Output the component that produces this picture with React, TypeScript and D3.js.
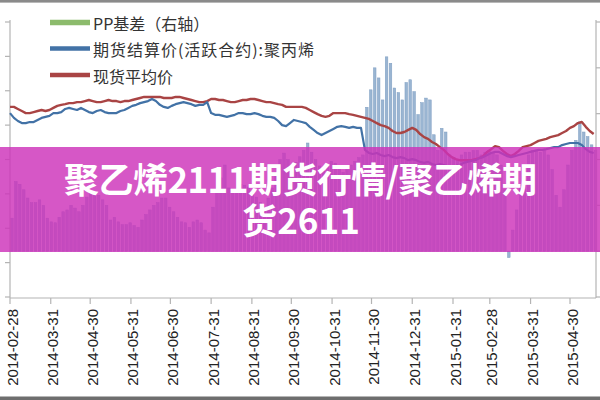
import React from "react";
import * as d3 from "d3";

// ---- data ----
const startDate = new Date(2014, 1, 28);
const stepDays = 3;

// 期货结算价(活跃合约):聚丙烯 (left axis)
const futuresPrice = [
  11350, 11210, 11120, 11060, 11060, 11090, 11090, 11150, 11210, 11240,
  11270, 11350, 11350, 11380, 11470, 11500, 11470, 11440, 11500, 11440,
  11380, 11350, 11410, 11440, 11380, 11350, 11350, 11350, 11410, 11440,
  11500, 11560, 11590, 11640, 11670, 11700, 11760, 11700, 11590, 11530,
  11500, 11560, 11610, 11640, 11670, 11640, 11610, 11560, 11590, 11590,
  11670, 11350, 11300, 11300, 11270, 11240, 11270, 11300, 11350, 11350,
  11320, 11320, 11350, 11320, 11270, 11240, 11240, 11210, 11120, 11000,
  10970, 11060, 11150, 11120, 11090, 11060, 10950, 10860, 10770, 10710,
  10770, 10830, 10890, 10950, 10970, 10950, 10920, 10950, 10920, 10920,
  10280, 10190, 10160, 10190, 10130, 10100, 10130, 10070, 10040, 10070,
  10040, 9980, 10010, 9980, 9930, 9900, 9930, 9870, 9840, 9870,
  9840, 9810, 9780, 9810, 9840, 9900, 9930, 9960, 9980, 10040,
  10070, 10130, 10190, 10220, 10220, 10160, 10100, 10070, 10100, 10130,
  10160, 10190, 10220, 10250, 10280, 10280, 10300, 10330, 10360, 10360,
  10420, 10450, 10480, 10480, 10480, 10420, 10300, 10220, 10190,
];

// 现货平均价 (left axis)
const spotPrice = [
  11530, 11530, 11470, 11410, 11350, 11350, 11380, 11410, 11440, 11410,
  11440, 11500, 11560, 11590, 11610, 11640, 11640, 11670, 11670, 11700,
  11730, 11700, 11670, 11670, 11700, 11730, 11700, 11700, 11670, 11700,
  11700, 11730, 11760, 11790, 11820, 11820, 11820, 11820, 11820, 11790,
  11790, 11790, 11820, 11820, 11790, 11760, 11730, 11700, 11670, 11670,
  11700, 11760, 11760, 11730, 11730, 11700, 11670, 11670, 11700, 11730,
  11730, 11760, 11760, 11730, 11700, 11670, 11670, 11640, 11610, 11590,
  11530, 11530, 11530, 11530, 11530, 11500, 11440, 11380, 11320, 11270,
  11240, 11270, 11350, 11350, 11350, 11350, 11320, 11300, 11270, 11240,
  11210, 11180, 11120, 11060, 11000, 10970, 10920, 10830, 10770, 10770,
  10800, 10860, 10920, 10860, 10740, 10650, 10600, 10510, 10450, 10360,
  10280, 10160, 10070, 10010, 9980, 9980, 9980, 9980, 10010, 10040,
  10100, 10220, 10300, 10390, 10360, 10250, 10160, 10100, 10160, 10250,
  10360, 10390, 10420, 10480, 10540, 10570, 10600, 10650, 10680, 10710,
  10770, 10830, 10920, 10970, 11060, 11090, 10950, 10830, 10740,
];

// PP基差 (right axis)
const ppBasis = [
  360, 760, 730, 670, 580, 530, 530, 560, 500, 360,
  320, 310, 370, 430, 450, 500, 470, 430, 500, 590,
  640, 640, 610, 560, 500, 340, 370, 320, 290, 290,
  310, 280, 260, 340, 400, 450, 500, 530, 580, 580,
  480, 430, 370, 320, 310, 260, 320, 340, 310, 230,
  200, 480, 670, 800, 940, 690, 650, 670, 730, 720,
  700, 650, 590, 530, 480, 580, 690, 860, 1000, 1070,
  1000, 920, 970, 1030, 1100, 1180, 1080, 1000, 930, 890,
  930, 980, 960, 910, 860, 890, 940, 980, 1020, 1050,
  1570, 1760, 2000, 1890, 1650, 2120, 2050, 1780, 1730, 1650,
  1840, 1870, 1740, 1490, 1620, 1670, 1650, 1270, 1100, 1340,
  1300, 1050, 1020, 1000, 1050, 1080, 1080, 1100, 1100, 1050,
  1080, 1100, 1080, 1050, 940, 670, -70, 230, 450, 720,
  940, 1050, 1100, 1100, 1080, 1100, 1050, 890, 610, 480,
  670, 940, 1100, 1210, 1410, 1300, 1250, 1160, 1100,
];

const tickLabels = [
  "2014-02-28", "2014-03-31", "2014-04-30", "2014-05-31", "2014-06-30",
  "2014-07-31", "2014-08-31", "2014-09-30", "2014-10-31", "2014-11-30",
  "2014-12-31", "2015-01-31", "2015-02-28", "2015-03-31", "2015-04-30",
];
const leftTicks = [6000, 7000, 8000, 9000, 10000, 11000, 12000, 13000, 14000];
const rightTicks = [-500, 0, 500, 1000, 1500, 2000, 2500];
const legendLabels = ["PP基差（右轴）", "期货结算价(活跃合约):聚丙烯", "现货平均价"];
const legendColors = ["#8cbb6c", "#4272a6", "#a94444"];
const titleLines = ["聚乙烯2111期货行情/聚乙烯期", "货2611"];

export default function App() {
  const W = 600;
  const H = 400;
  const parse = d3.timeParse("%Y-%m-%d");
  const tickDates = tickLabels.map((s) => parse(s) as Date);
  const dates = futuresPrice.map((_, i) => d3.timeDay.offset(startDate, i * stepDays));

  const x = d3
    .scaleTime()
    .domain([tickDates[0], tickDates[tickDates.length - 1]])
    .range([10, 570]);
  const yL = d3.scaleLinear().domain([6000, 14000]).range([297, 22]);
  const yR = d3.scaleLinear().domain([-500, 2500]).range([297, 22]);

  const lineGen = d3
    .line<number>()
    .x((_, i) => x(dates[i]))
    .y((d) => yL(d));

  const axisColor = "#b4b4b4";
  const barW = 2.6;

  return (
    <svg
      width={W}
      height={H}
      viewBox={`0 0 ${W} ${H}`}
      style={{ position: "absolute", left: 0, top: 0, display: "block", background: "#fff" }}
    >
      <rect x={0} y={0} width={W} height={H} fill="#ffffff" />

      {/* bars: PP basis */}
      <g>
        {ppBasis.map((v, i) => {
          const bx = x(dates[i]) + 0.6;
          const y0 = yR(0);
          const y1 = yR(v);
          return (
            <rect
              key={i}
              x={bx}
              y={Math.min(y0, y1)}
              width={barW}
              height={Math.abs(y0 - y1)}
              fill="#9ab5d2"
              stroke="#7f9ec2"
              strokeWidth={0.5}
            />
          );
        })}
      </g>

      {/* axes */}
      <g stroke={axisColor} strokeWidth={1.2}>
        <line x1={10} y1={20} x2={10} y2={298} />
        <line x1={596} y1={20} x2={596} y2={298} />
        <line x1={10} y1={298} x2={596} y2={298} />
        {leftTicks.map((t) => (
          <line key={"l" + t} x1={5} x2={10} y1={yL(t)} y2={yL(t)} />
        ))}
        {rightTicks.map((t) => (
          <line key={"r" + t} x1={596} x2={601} y1={yR(t)} y2={yR(t)} />
        ))}
        {tickDates.map((d, i) => (
          <line key={"x" + i} x1={x(d)} x2={x(d)} y1={298} y2={304} />
        ))}
      </g>

      {/* lines */}
      <path d={lineGen(spotPrice) || ""} fill="none" stroke="#a94444" strokeWidth={2.4} strokeLinejoin="round" />
      <path d={lineGen(futuresPrice) || ""} fill="none" stroke="#4272a6" strokeWidth={2.2} strokeLinejoin="round" />

      {/* x tick labels */}
      <g fontFamily="'Liberation Sans', Arial, sans-serif" fontSize={15} fill="#222">
        {tickDates.map((d, i) => (
          <text key={i} transform={`translate(${x(d) + 7.5},309) rotate(-90)`} textAnchor="end">
            {tickLabels[i]}
          </text>
        ))}
      </g>

      {/* legend */}
      <g fontFamily="'Noto Sans CJK SC', sans-serif" fontSize={16} fill="#333">
        {legendLabels.map((lab, i) => {
          const cy = [22.5, 48.5, 75][i];
          return (
            <g key={i}>
              <line x1={50} x2={90} y1={cy} y2={cy} stroke={legendColors[i]} strokeWidth={i === 0 ? 5.5 : 4.5} />
              <text x={93} y={cy + 0.5} dominantBaseline="central" textLength={i === 1 ? 221 : undefined} lengthAdjust="spacing">
                {lab}
              </text>
            </g>
          );
        })}
      </g>

      {/* banner overlay */}
      <rect x={0} y={147} width={W} height={105} fill="rgb(205,50,185)" fillOpacity={0.82} />
      <g fontFamily="'Noto Sans CJK SC', sans-serif" fontWeight="bold" fill="#ffffff" textAnchor="middle" fontSize={35}>
        <text x={300.5} y={193} textLength={473} lengthAdjust="spacing">
          {titleLines[0]}
        </text>
        <text x={301} y={234}>
          {titleLines[1]}
        </text>
      </g>

      {/* frame bars */}
      <rect x={0} y={0} width={W} height={2.6} fill="#8a8a8a" />
      <rect x={0} y={396.5} width={W} height={3.5} fill="#6e6e6e" />
    </svg>
  );
}
